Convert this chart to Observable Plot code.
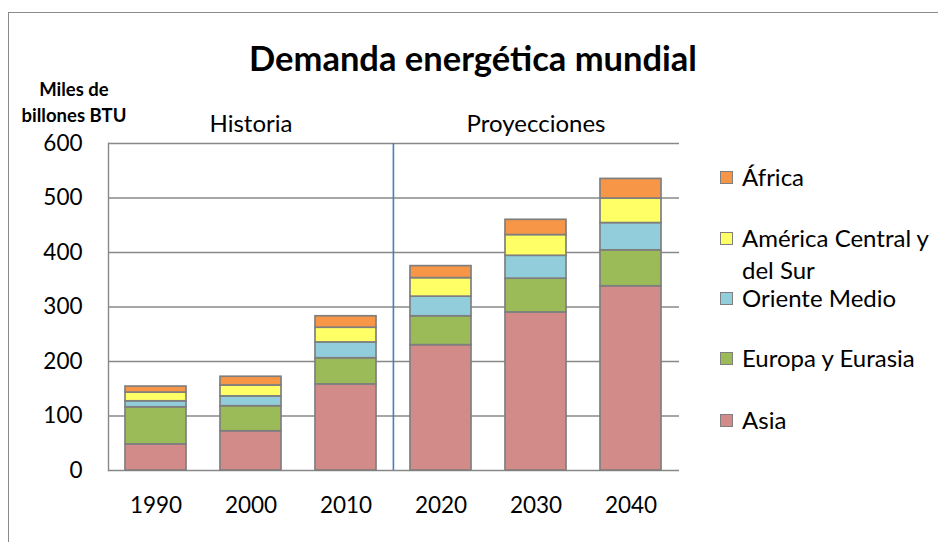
<!DOCTYPE html>
<html>
<head>
<meta charset="utf-8">
<script src="https://cdn.jsdelivr.net/npm/d3@7"></script>
<script src="https://cdn.jsdelivr.net/npm/@observablehq/plot@0.6"></script>
<style>
  body { margin: 0; background: #fff; }
  #wrap { position: relative; width: 938px; height: 542px; overflow: hidden; font-family: Lato, "Open Sans", sans-serif; color: #000; }
  #frame { position: absolute; left: 8px; top: 12px; width: 1000px; height: 1000px; border: 1px solid #8a8a8a; box-sizing: border-box; }
  #chart { position: absolute; left: 0; top: 0; }
  #title { position: absolute; left: 0; width: 946px; top: 38px; line-height: 40px; text-align: center; font-weight: bold; font-size: 34.5px; }
  #unit { position: absolute; left: 14px; width: 120px; top: 76px; line-height: 26px; text-align: center; font-weight: bold; font-size: 18.5px; }
  .leg { position: absolute; left: 720px; font-size: 24px; line-height: 32px; }
  .leg .sw { position: absolute; left: 0; width: 13px; height: 13px; border: 1px solid #7f7f7f; box-sizing: border-box; }
  .leg .tx { position: absolute; left: 22px; white-space: nowrap; }
</style>
</head>
<body>
<div id="wrap">
  <div id="frame"></div>
  <div id="chart"></div>
  <div id="title">Demanda energética mundial</div>
  <div id="unit">Miles de<br>billones BTU</div>
  <div id="legend"></div>
</div>
<script>
const years = ["1990", "2000", "2010", "2020", "2030", "2040"];
const regions = ["Asia", "Europa y Eurasia", "Oriente Medio", "América Central y del Sur", "África"];
const asia = [48, 72, 158, 230, 290, 338];
const europa = [68, 46, 48, 53, 62, 66];
const orienteMedio = [11, 18, 29, 36, 42, 50];
const americaCS = [16, 20, 27, 34, 38, 45];
const africa = [11, 16, 21, 22, 28, 36];
const colors = ["#d38b89", "#9bbb59", "#92cddc", "#ffff66", "#f79646"];
const yTicks = [0, 100, 200, 300, 400, 500, 600];
const periodLabels = ["Historia", "Proyecciones"];
const periodAt = ["2000", "2030"];
const splitYear = "2020";

const series = [asia, europa, orienteMedio, americaCS, africa];
const data = [];
regions.forEach((r, k) => years.forEach((y, i) => data.push({year: y, region: r, value: series[k][i]})));

const W = 938, H = 542, ml = 108, mr = 259, mt = 143, mb = 72;
const step = (W - ml - mr) / years.length;

const chart = Plot.plot({
  width: W, height: H,
  marginLeft: ml, marginRight: mr, marginTop: mt, marginBottom: mb,
  style: {fontFamily: "Lato, 'Open Sans', sans-serif", fontSize: "22.5px", color: "#000", background: "transparent"},
  x: {domain: years, paddingInner: 0.355, paddingOuter: 0.1775, label: null, tickSize: 0, tickPadding: 27},
  y: {domain: [0, 600], ticks: yTicks, label: null, tickSize: 0, tickPadding: 26},
  color: {domain: regions, range: colors},
  marks: [
    Plot.ruleY(yTicks, {stroke: "#888888", strokeWidth: 1.4}),
    Plot.frame({anchor: "left", stroke: "#888888", strokeWidth: 1.4}),
    Plot.barY(data, {x: "year", y: "value", fill: "region", order: regions, stroke: "#7f7f7f", strokeWidth: 1.7, inset: 0}),
    Plot.ruleX([splitYear], {dx: -step / 2, stroke: "#4a7ebb", strokeWidth: 1.6}),
    Plot.text(periodLabels, {x: (d, i) => periodAt[i], text: d => d, frameAnchor: "top", dy: -19, lineAnchor: "middle", fontSize: 24, fill: "#000"})
  ]
});
document.getElementById("chart").appendChild(chart);

const legendTop = [177, 238, 298, 358, 420];
const legendItems = [
  {name: "África", color: colors[4], lines: ["África"]},
  {name: "América Central y del Sur", color: colors[3], lines: ["América Central y", "del Sur"]},
  {name: "Oriente Medio", color: colors[2], lines: ["Oriente Medio"]},
  {name: "Europa y Eurasia", color: colors[1], lines: ["Europa y Eurasia"]},
  {name: "Asia", color: colors[0], lines: ["Asia"]}
];
const leg = document.getElementById("legend");
legendItems.forEach((it, i) => {
  const d = document.createElement("div");
  d.className = "leg";
  d.style.top = (legendTop[i] - 16) + "px";
  d.innerHTML = `<div class="sw" style="top:10px;background:${it.color}"></div><div class="tx">${it.lines.join("<br>")}</div>`;
  leg.appendChild(d);
});
</script>
</body>
</html>
